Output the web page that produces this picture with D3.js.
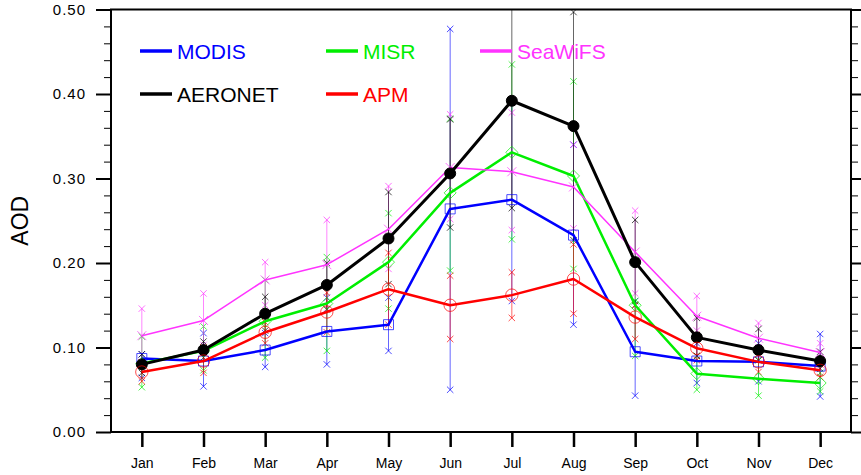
<!DOCTYPE html>
<html>
<head>
<meta charset="utf-8">
<script src="https://cdn.jsdelivr.net/npm/d3@7"></script>
<style>
  body { margin: 0; background: #fff; }
  text { font-family: "Liberation Sans", Arial, Helvetica, sans-serif; }
</style>
</head>
<body>
<script>
var months = ["Jan", "Feb", "Mar", "Apr", "May", "Jun", "Jul", "Aug", "Sep", "Oct", "Nov", "Dec"];
var yTicks = [0, 0.1, 0.2, 0.3, 0.4, 0.5];

// monthly means and the low / high ends of the spread bars
var modis    = [0.087, 0.084, 0.097, 0.119, 0.127, 0.264, 0.275, 0.233, 0.095, 0.084, 0.083, 0.078];
var modisLo  = [0.064, 0.054, 0.077, 0.080, 0.096, 0.050, 0.155, 0.127, 0.043, 0.058, 0.060, 0.042];
var modisHi  = [0.092, 0.117, 0.117, 0.159, 0.159, 0.477, 0.390, 0.340, 0.155, 0.105, 0.105, 0.116];

var misr     = [0.081, 0.096, 0.131, 0.152, 0.201, 0.283, 0.331, 0.303, 0.150, 0.069, 0.063, 0.058];
var misrLo   = [0.053, 0.073, 0.088, 0.096, 0.146, 0.191, 0.228, 0.193, 0.090, 0.050, 0.043, 0.048];
var misrHi   = [0.113, 0.125, 0.180, 0.207, 0.259, 0.371, 0.435, 0.415, 0.155, 0.090, 0.085, 0.070];

var seawifs   = [0.114, 0.132, 0.180, 0.198, 0.240, 0.313, 0.308, 0.290, 0.213, 0.137, 0.111, 0.094];
var seawifsLo = [0.082, 0.103, 0.150, 0.146, 0.193, 0.252, 0.239, 0.241, 0.164, 0.120, 0.100, 0.085];
var seawifsHi = [0.146, 0.164, 0.201, 0.251, 0.291, 0.376, 0.378, 0.340, 0.262, 0.161, 0.129, 0.105];

var aeronet   = [0.080, 0.097, 0.140, 0.174, 0.229, 0.306, 0.392, 0.362, 0.201, 0.112, 0.097, 0.084];
var aeronetLo = [0.070, 0.088, 0.120, 0.145, 0.175, 0.242, 0.265, 0.227, 0.150, 0.090, 0.085, 0.075];
var aeronetHi = [0.092, 0.107, 0.160, 0.200, 0.284, 0.370, 0.520, 0.497, 0.251, 0.135, 0.122, 0.095];

var apm      = [0.071, 0.084, 0.118, 0.142, 0.169, 0.150, 0.162, 0.181, 0.136, 0.099, 0.083, 0.073];
var apmLo    = [0.060, 0.070, 0.105, 0.118, 0.127, 0.110, 0.135, 0.140, 0.110, 0.085, 0.071, 0.065];
var apmHi    = [0.082, 0.100, 0.130, 0.165, 0.212, 0.185, 0.189, 0.222, 0.150, 0.115, 0.095, 0.080];

var width = 861;
var height = 475;
var plotL = 111, plotR = 851, plotT = 9.5, plotB = 432;

var series = [
  { name: "MODIS",   mean: modis,   lo: modisLo,   hi: modisHi,   color: "#0000ff", lw: 2.5, mark: "square" },
  { name: "MISR",    mean: misr,    lo: misrLo,    hi: misrHi,    color: "#00ee00", lw: 2.5, mark: "diamond" },
  { name: "SeaWiFS", mean: seawifs, lo: seawifsLo, hi: seawifsHi, color: "#ff33ff", lw: 1.5, mark: "cross" },
  { name: "AERONET", mean: aeronet, lo: aeronetLo, hi: aeronetHi, color: "#000000", lw: 3,   mark: "dot" },
  { name: "APM",     mean: apm,     lo: apmLo,     hi: apmHi,     color: "#ff0000", lw: 2.5, mark: "circle" }
];

var svg = d3.select("body").append("svg")
            .attr("width", width)
            .attr("height", height);

var x = d3.scaleLinear().domain([0.5, 12.5]).range([plotL, plotR]);
var y = d3.scaleLinear().domain([0, 0.5]).range([plotB, plotT]);
var minor = d3.range(0, 0.501, 0.02);

svg.append("clipPath").attr("id", "plot")
   .append("rect")
   .attr("x", plotL).attr("y", plotT)
   .attr("width", plotR - plotL).attr("height", plotB - plotT);

function isMajor(d) { return Math.abs(d * 10 - Math.round(d * 10)) < 1e-6; }

// axes
var yLeft = svg.append("g").attr("transform", "translate(" + plotL + ",0)");
yLeft.append("g").call(d3.axisLeft(y).tickValues(minor.filter(function(d) { return !isMajor(d); })).tickSize(7).tickFormat(""));
yLeft.append("g").call(d3.axisLeft(y).tickValues(yTicks).tickSize(15).tickPadding(10).tickFormat(d3.format(".2f")));

var yRight = svg.append("g").attr("transform", "translate(" + plotR + ",0)");
yRight.append("g").call(d3.axisRight(y).tickValues(minor.filter(function(d) { return !isMajor(d); })).tickSize(7).tickFormat(""));
yRight.append("g").call(d3.axisRight(y).tickValues(yTicks).tickSize(15).tickFormat(""));

var xAxis = svg.append("g").attr("transform", "translate(0," + plotB + ")");
xAxis.call(d3.axisBottom(x).tickValues(d3.range(1, 13)).tickSize(15).tickPadding(11)
      .tickFormat(function(d) { return months[d - 1]; }));

svg.selectAll(".domain").remove();
svg.selectAll(".tick line").attr("stroke", "#000").attr("stroke-width", 1);
svg.selectAll(".tick line").filter(function(d) { return isMajor(d); }).attr("stroke-width", 2);
xAxis.selectAll(".tick line").attr("stroke-width", 2.5);
yLeft.selectAll("text").attr("font-size", "15px").attr("letter-spacing", "1px").attr("fill", "#000");
xAxis.selectAll("text").attr("font-size", "14px").attr("fill", "#000");

svg.append("rect")
   .attr("x", plotL).attr("y", plotT)
   .attr("width", plotR - plotL).attr("height", plotB - plotT)
   .attr("fill", "none").attr("stroke", "#000").attr("stroke-width", 2);

svg.append("text")
   .attr("transform", "translate(28," + ((plotT + plotB) / 2) + ") rotate(-90)")
   .attr("text-anchor", "middle")
   .attr("font-size", "23px")
   .text("AOD");

// spread bars
var bars = svg.append("g").attr("clip-path", "url(#plot)");
var xMark = "M-3.2,-3.2L3.2,3.2M-3.2,3.2L3.2,-3.2";

series.forEach(function(s) {
  var g = bars.append("g").attr("stroke", s.color);
  g.selectAll("line")
   .data(months)
   .enter()
   .append("line")
   .attr("x1", function(d, i) { return x(i + 1); })
   .attr("x2", function(d, i) { return x(i + 1); })
   .attr("y1", function(d, i) { return y(s.lo[i]); })
   .attr("y2", function(d, i) { return y(s.hi[i]); })
   .attr("stroke-width", 1)
   .attr("stroke-opacity", 0.6);
  g.selectAll("path.lo")
   .data(s.lo)
   .enter()
   .append("path")
   .attr("class", "lo")
   .attr("d", xMark)
   .attr("transform", function(d, i) { return "translate(" + x(i + 1) + "," + y(d) + ")"; })
   .attr("stroke-width", 1)
   .attr("stroke-opacity", 0.7);
  g.selectAll("path.hi")
   .data(s.hi)
   .enter()
   .append("path")
   .attr("class", "hi")
   .attr("d", xMark)
   .attr("transform", function(d, i) { return "translate(" + x(i + 1) + "," + y(d) + ")"; })
   .attr("stroke-width", 1)
   .attr("stroke-opacity", 0.7);
});

// mean lines and markers
var line = d3.line()
  .x(function(d, i) { return x(i + 1); })
  .y(function(d) { return y(d); });

var symbols = {
  square:  "M-5,-5H5V5H-5Z",
  diamond: "M0,-6L6,0L0,6L-6,0Z",
  cross:   "M-4.5,-4.5L4.5,4.5M-4.5,4.5L4.5,-4.5",
  dot:     d3.symbol().type(d3.symbolCircle).size(95)(),
  circle:  d3.symbol().type(d3.symbolCircle).size(120)()
};

series.forEach(function(s) {
  svg.append("path")
     .datum(s.mean)
     .attr("d", line)
     .attr("fill", "none")
     .attr("stroke", s.color)
     .attr("stroke-width", s.lw)
     .attr("stroke-linejoin", "round");
  svg.append("g").selectAll("path")
     .data(s.mean)
     .enter()
     .append("path")
     .attr("d", symbols[s.mark])
     .attr("transform", function(d, i) { return "translate(" + x(i + 1) + "," + y(d) + ")"; })
     .attr("fill", s.mark == "dot" ? s.color : "none")
     .attr("stroke", s.color)
     .attr("stroke-width", 1)
     .attr("stroke-opacity", s.mark == "dot" ? 1 : 0.7);
});

// legend, two rows
var legendX = [140, 326, 480];
var legendY = [51, 94];
var legend = svg.append("g").selectAll("g")
  .data(series)
  .enter()
  .append("g")
  .attr("transform", function(d, i) { return "translate(" + legendX[i % 3] + "," + legendY[Math.floor(i / 3)] + ")"; });

legend.append("line")
  .attr("x1", 0).attr("x2", 32)
  .attr("stroke", function(d) { return d.color; })
  .attr("stroke-width", 3.5);

legend.append("text")
  .attr("x", 37)
  .attr("dy", "0.36em")
  .attr("font-size", "21px")
  .attr("fill", function(d) { return d.color; })
  .text(function(d) { return d.name; });
</script>
</body>
</html>
